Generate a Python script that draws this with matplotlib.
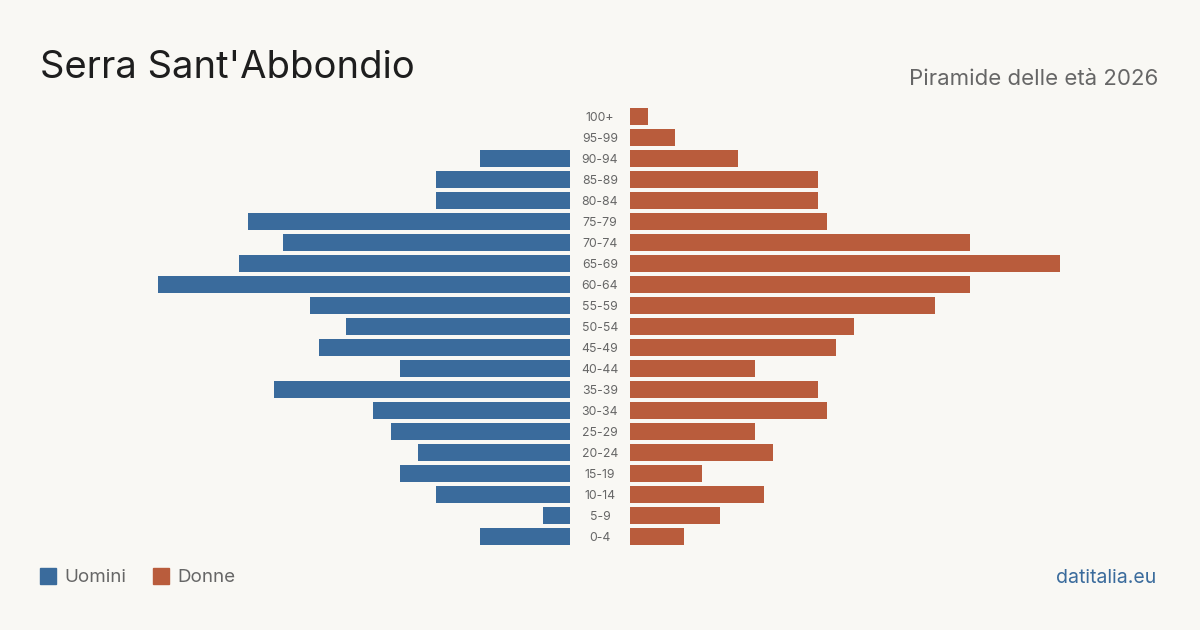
import matplotlib
matplotlib.use("Agg")
import matplotlib.pyplot as plt
from matplotlib.patches import Rectangle

age_groups = ["0-4", "5-9", "10-14", "15-19", "20-24", "25-29", "30-34", "35-39",
              "40-44", "45-49", "50-54", "55-59", "60-64", "65-69", "70-74", "75-79",
              "80-84", "85-89", "90-94", "95-99", "100+"]
men = [10, 3, 15, 19, 17, 20, 22, 33, 19, 28, 25, 29, 46, 37, 32, 36, 15, 15, 10, 0, 0]
women = [6, 10, 15, 8, 16, 14, 22, 21, 14, 23, 25, 34, 38, 48, 38, 22, 21, 21, 12, 5, 2]

title = "Serra Sant'Abbondio"
subtitle = "Piramide delle età 2026"
legend_labels = ["Uomini", "Donne"]
source = "datitalia.eu"

BG = "#f9f8f4"
BLUE = "#3a6b9c"
ORANGE = "#b95c3c"
GREY = "#666666"
FONT = ["Inter", "DejaVu Sans"]

W, H = 1200, 630
fig = plt.figure(figsize=(12, 6.3), dpi=100, facecolor=BG)

xmax = 48
def px_axes(x0, x1, y_top, y_bot):
    return fig.add_axes([x0 / W, 1 - y_bot / H, (x1 - x0) / W, (y_bot - y_top) / H])

y_top, y_bot = 106, 547
axL = px_axes(140, 570, y_top, y_bot)
axR = px_axes(630, 1060, y_top, y_bot)
ypos = list(range(len(age_groups)))
for ax, vals, col in ((axL, men, BLUE), (axR, women, ORANGE)):
    ax.set_facecolor("none")
    ax.barh(ypos, vals, height=0.8, color=col)
    ax.set_ylim(-0.5, len(age_groups) - 0.5)
    ax.axis("off")
axL.set_xlim(xmax, 0)
axR.set_xlim(0, xmax)

for i, lab in enumerate(age_groups):
    axL.annotate(lab, xy=(1, (i + 0.5) / len(age_groups)), xycoords="axes fraction",
                 xytext=(30 * 72 / 100, -1.2 * 72 / 100), textcoords="offset points",
                 ha="center", va="center", fontsize=8.8, color=GREY, family=FONT)

fig.text(40 / W, 1 - 68 / H, title, fontsize=27.5, color="#1e1e1e", family=FONT,
         ha="left", va="center")
fig.text(1158 / W, 1 - 79 / H, subtitle, fontsize=16, color=GREY, family=FONT,
         ha="right", va="center")

# legend
for x0, lab, col in ((40, legend_labels[0], BLUE), (153, legend_labels[1], ORANGE)):
    fig.patches.append(Rectangle((x0 / W, 1 - 584 / H), 16 / W, 16 / H,
                                 transform=fig.transFigure, color=col))
    fig.text((x0 + 24) / W, 1 - 578 / H, lab, fontsize=13.5, color=GREY, family=FONT,
             ha="left", va="center")

fig.text(1156 / W, 1 - 578 / H, source, fontsize=14, color=BLUE, family=FONT,
         ha="right", va="center")

fig.savefig("out.png", dpi=100, facecolor=BG)
